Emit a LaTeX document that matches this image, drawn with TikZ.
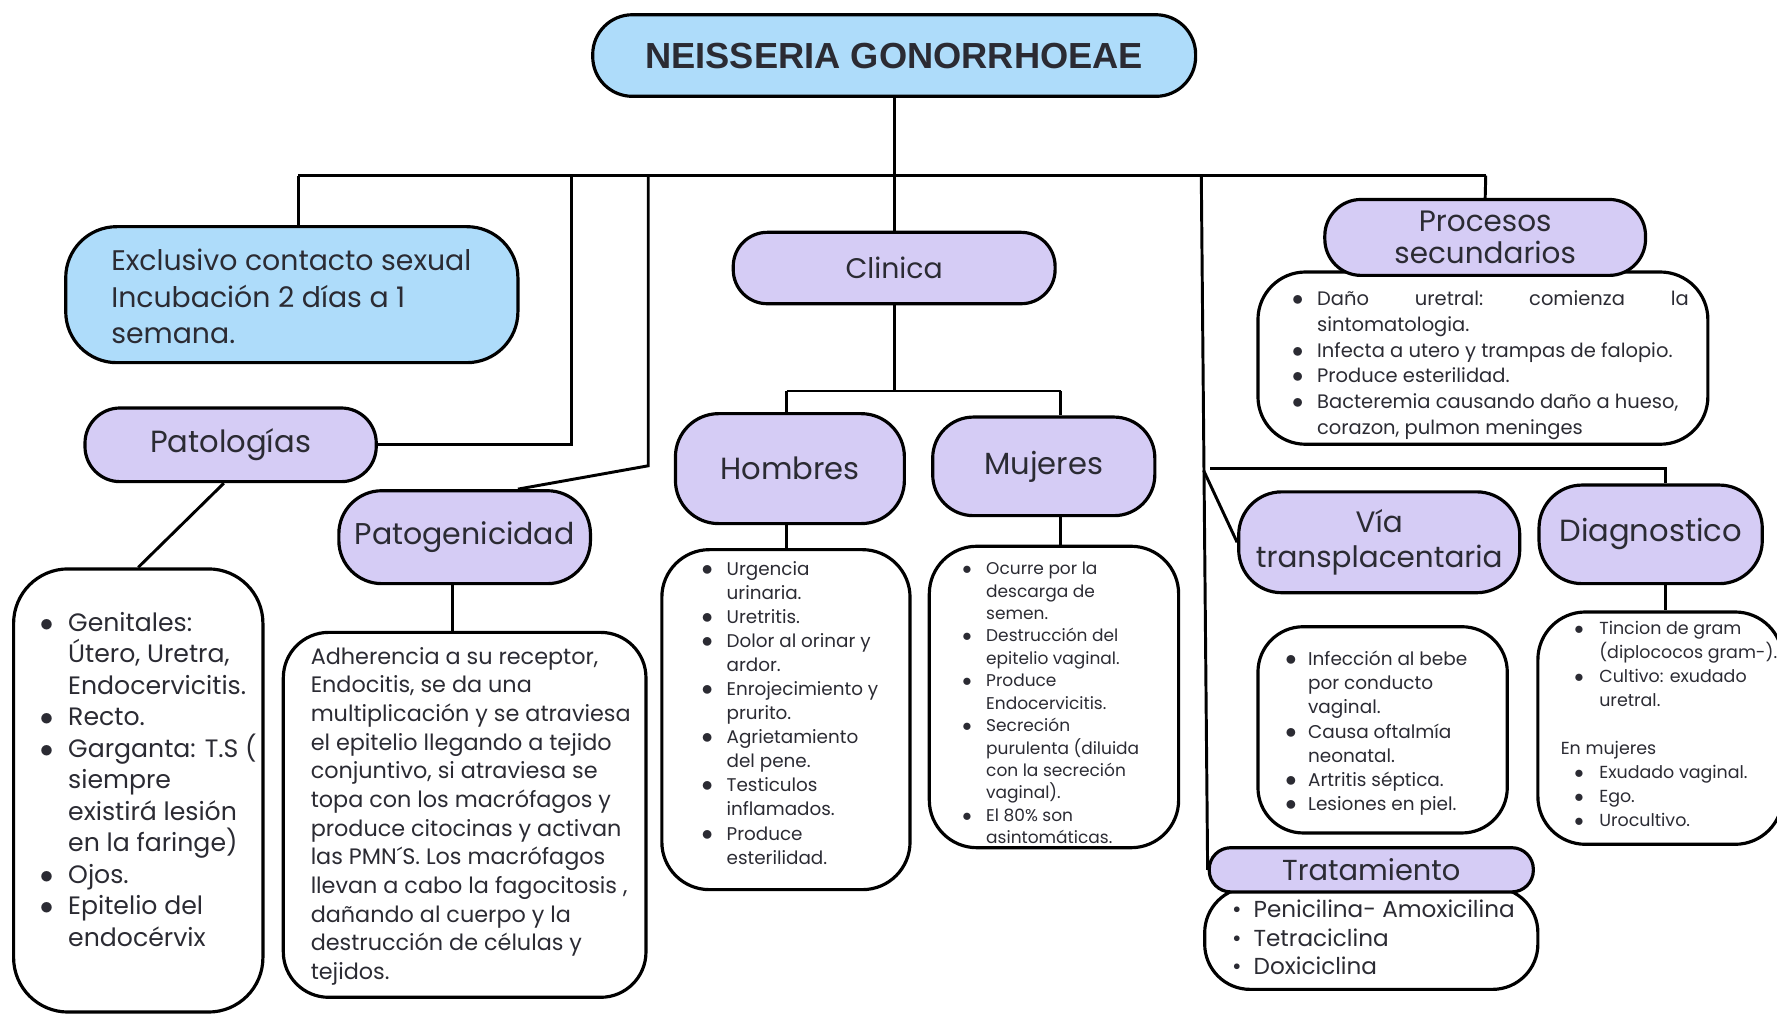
\documentclass[tikz,border=0pt]{standalone}
\usepackage{fontspec}
\setmainfont{Poppins}
\newfontfamily\titlefont{Liberation Sans}
\usetikzlibrary{calc}
\definecolor{skyb}{HTML}{AEDCFA}
\definecolor{lav}{HTML}{D5CCF5}
\definecolor{ink}{HTML}{2B2B33}
\pgfdeclarelayer{bg}
\pgfdeclarelayer{paper}
\pgfsetlayers{paper,bg,main}
\tikzset{
  box/.style={draw=black, line width=2.8pt, inner sep=0pt, text=ink},
  lab/.style={box, fill=lav, font=\fontsize{26}{29}\selectfont, align=center},
  wbox/.style={box, fill=white},
  txt/.style={inner sep=0pt, text=ink, align=left, anchor=base west},
  conn/.style={draw=black, line width=2.6pt},
}
\newcommand{\bu}[1]{\makebox[#1][l]{\scalebox{1.15}{$\bullet$}}}
\newcommand{\tb}[1]{\makebox[#1][l]{\textbullet}}
\begin{document}
\begin{tikzpicture}[x=1pt,y=-1pt]
\begin{pgfonlayer}{paper}
\fill[white] (0,0) rectangle (1568,897);
\end{pgfonlayer}
\useasboundingbox (0,0) rectangle (1568,897);

% title
\node[box, fill=skyb, minimum width=532pt, minimum height=72pt, rounded corners=35pt,
  font=\fontsize{32}{36}\selectfont\titlefont\bfseries] (title) at (789,49) {NEISSERIA GONORRHOEAE};

% Exclusivo (base = last line)
\node[box, fill=skyb, minimum width=399pt, minimum height=120pt, rounded corners=45pt] (excl) at (257.5,260) {};
\node[txt, font=\fontsize{25}{32}\selectfont] (exclT) at (98,303) {Exclusivo contacto sexual\\Incubación 2 días a 1\\semana.};

% Patologias
\node[lab, minimum width=257pt, minimum height=65pt, rounded corners=31pt, font=\fontsize{27}{30}\selectfont] (patol) at (203.5,392.5) {Patologías};
\node[wbox, minimum width=220pt, minimum height=391pt, rounded corners=48pt] (genit) at (122,697.5) {};
\node[txt, font=\fontsize{22.2}{27.8}\selectfont] (genitT) at (35,835) {\bu{25pt}Genitales:\\\hspace*{25pt}Útero, Uretra,\\\hspace*{25pt}Endocervicitis.\\\bu{25pt}Recto.\\\bu{25pt}Garganta: T.S (\\\hspace*{25pt}siempre\\\hspace*{25pt}existirá lesión\\\hspace*{25pt}en la faringe)\\\bu{25pt}Ojos.\\\bu{25pt}Epitelio del\\\hspace*{25pt}endocérvix};

% Patogenicidad
\node[lab, minimum width=222pt, minimum height=82pt, rounded corners=38pt, font=\fontsize{26.5}{30}\selectfont] (patog) at (410,474) {Patogenicidad};
\node[wbox, minimum width=320pt, minimum height=322pt, rounded corners=40pt] (patogB) at (410,719) {};
\node[txt, font=\fontsize{19.7}{25.3}\selectfont] (patogT) at (274,864.3) {Adherencia a su receptor,\\Endocitis, se da una\\multiplicación y se atraviesa\\el epitelio llegando a tejido\\conjuntivo, si atraviesa se\\topa con los macrófagos y\\produce citocinas y activan\\las PMN´S. Los macrófagos\\llevan a cabo la fagocitosis ,\\dañando al cuerpo y la\\destrucción de células y\\tejidos.};

% Clinica
\node[lab, minimum width=284pt, minimum height=63pt, rounded corners=30pt, font=\fontsize{25}{29}\selectfont] (clin) at (789,236.5) {Clinica};
\node[lab, minimum width=202pt, minimum height=97pt, rounded corners=38pt, font=\fontsize{27}{29}\selectfont] (homb) at (697,413.5) {Hombres};
\node[wbox, minimum width=219pt, minimum height=300pt, rounded corners=42pt] (hombB) at (693.5,635) {};
\node[txt, font=\fontsize{16.2}{21.2}\selectfont] (hombT) at (619,762.4) {\bu{22pt}Urgencia\\\hspace*{22pt}urinaria.\\\bu{22pt}Uretritis.\\\bu{22pt}Dolor al orinar y\\\hspace*{22pt}ardor.\\\bu{22pt}Enrojecimiento y\\\hspace*{22pt}prurito.\\\bu{22pt}Agrietamiento\\\hspace*{22pt}del pene.\\\bu{22pt}Testiculos\\\hspace*{22pt}inflamados.\\\bu{22pt}Produce\\\hspace*{22pt}esterilidad.};
\node[lab, minimum width=196pt, minimum height=87pt, rounded corners=36pt, font=\fontsize{27}{29}\selectfont] (muj) at (921,411.5) {Mujeres};
\node[wbox, minimum width=220pt, minimum height=266pt, rounded corners=42pt] (mujB) at (930,615) {};
\node[txt, font=\fontsize{15}{19.8}\selectfont] (mujT) at (849,744.6) {\bu{21pt}Ocurre por la\\\hspace*{21pt}descarga de\\\hspace*{21pt}semen.\\\bu{21pt}Destrucción del\\\hspace*{21pt}epitelio vaginal.\\\bu{21pt}Produce\\\hspace*{21pt}Endocervicitis.\\\bu{21pt}Secreción\\\hspace*{21pt}purulenta (diluida\\\hspace*{21pt}con la secreción\\\hspace*{21pt}vaginal).\\\bu{21pt}El 80\% son\\\hspace*{21pt}asintomáticas.};

% Procesos secundarios
\node[wbox, minimum width=397pt, minimum height=152pt, rounded corners=42pt] (procB) at (1308.5,316) {};
\node[lab, minimum width=283pt, minimum height=67pt, rounded corners=32pt, font=\fontsize{26}{29}\selectfont] (proc) at (1310.5,209.5) {Procesos\\secundarios};
\node[txt, font=\fontsize{17.2}{22.6}\selectfont] (procT) at (1140,383) {\bu{22pt}\makebox[328pt][l]{Daño\hfill uretral:\hfill comienza\hfill la}\\\hspace*{22pt}sintomatologia.\\\bu{22pt}Infecta a utero y trampas de falopio.\\\bu{22pt}Produce esterilidad.\\\bu{22pt}Bacteremia causando daño a hueso,\\\hspace*{22pt}corazon, pulmon meninges};

% Via transplacentaria
\node[lab, minimum width=248pt, minimum height=89pt, rounded corners=38pt, font=\fontsize{26}{31}\selectfont] (via) at (1217,478.5) {Vía\\transplacentaria};
\node[wbox, minimum width=220pt, minimum height=182pt, rounded corners=40pt] (viaB) at (1220,644) {};
\node[txt, font=\fontsize{16.3}{21.4}\selectfont] (viaT) at (1134,715.4) {\bu{20pt}Infección al bebe\\\hspace*{20pt}por conducto\\\hspace*{20pt}vaginal.\\\bu{20pt}Causa oftalmía\\\hspace*{20pt}neonatal.\\\bu{20pt}Artritis séptica.\\\bu{20pt}Lesiones en piel.};

% Diagnostico
\node[lab, minimum width=197pt, minimum height=87pt, rounded corners=38pt, font=\fontsize{27}{29}\selectfont] (diag) at (1456.5,471.5) {Diagnostico};
\node[wbox, minimum width=216pt, minimum height=205pt, rounded corners=42pt] (diagB) at (1465,642.5) {};
\node[txt, font=\fontsize{15.4}{21.2}\selectfont] (diagT) at (1377,729.6) {\hspace*{12pt}\bu{22pt}Tincion de gram\\\hspace*{34pt}(diplococos gram-).\\\hspace*{12pt}\bu{22pt}Cultivo: exudado\\\hspace*{34pt}uretral.\\[21.2pt]En mujeres\\\hspace*{12pt}\bu{22pt}Exudado vaginal.\\\hspace*{12pt}\bu{22pt}Ego.\\\hspace*{12pt}\bu{22pt}Urocultivo.};

% Tratamiento
\node[wbox, minimum width=294pt, minimum height=90pt, rounded corners=40pt] (tratB) at (1210,828) {};
\node[lab, minimum width=286pt, minimum height=39pt, rounded corners=19pt, font=\fontsize{25.5}{29}\selectfont] (trat) at (1210,767.5) {Tratamiento};
\node[txt, font=\fontsize{20.4}{25}\selectfont] (tratT) at (1087,860) {\tb{19pt}Penicilina- Amoxicilina\\\tb{19pt}Tetraciclina\\\tb{19pt}Doxiciclina};

% connectors
\begin{pgfonlayer}{bg}
\coordinate (bL) at (263,155);
\coordinate (bR) at (1311,155);
\coordinate (b2) at (504,155);
\coordinate (b3) at (572,155);
\coordinate (b3d) at (572,411);
\coordinate (b4) at (1060,155);
\coordinate (b4v) at (1062,415);
\coordinate (dh1) at (1068,413);
\coordinate (dh2) at (1470,413);
\coordinate (hj) at (694,345);
\coordinate (mj) at (936,345);
\draw[conn] (title.south) -- (clin.north);
\draw[conn] (bL) -- (bR);
\draw[conn] (bL) -- (bL |- excl.north);
\draw[conn] (b2) |- (patol.east);
\draw[conn] (b3) -- (b3d) -- ($(patog.north)+(47,0)$);
\draw[conn] (bR) -- (proc.north);
\draw[conn] (b4) -- (trat.west);
\draw[conn] (b4v) -- (via.west);
\draw[conn] (dh1) -- (dh2) -- (dh2 |- diag.north);
\draw[conn] (clin.south) -- (clin.south |- hj);
\draw[conn] (hj) -- (mj);
\draw[conn] (hj) -- (hj |- homb.north);
\draw[conn] (mj) -- (mj |- muj.north);
\draw[conn] (hj |- homb.south) -- (hj |- hombB.north);
\draw[conn] (mj |- muj.south) -- (mj |- mujB.north);
\draw[conn] ($(patol.south)+(-6,0)$) -- (genit.north);
\draw[conn] ($(patog.south)+(-11,0)$) -- ($(patogB.north)+(-11,0)$);
\draw[conn] ($(via.south)+(2,0)$) -- ($(via.south)+(2,0)$ |- viaB.north);
\draw[conn] (dh2 |- diag.south) -- (dh2 |- diagB.north);
\end{pgfonlayer}
\end{tikzpicture}
\end{document}
